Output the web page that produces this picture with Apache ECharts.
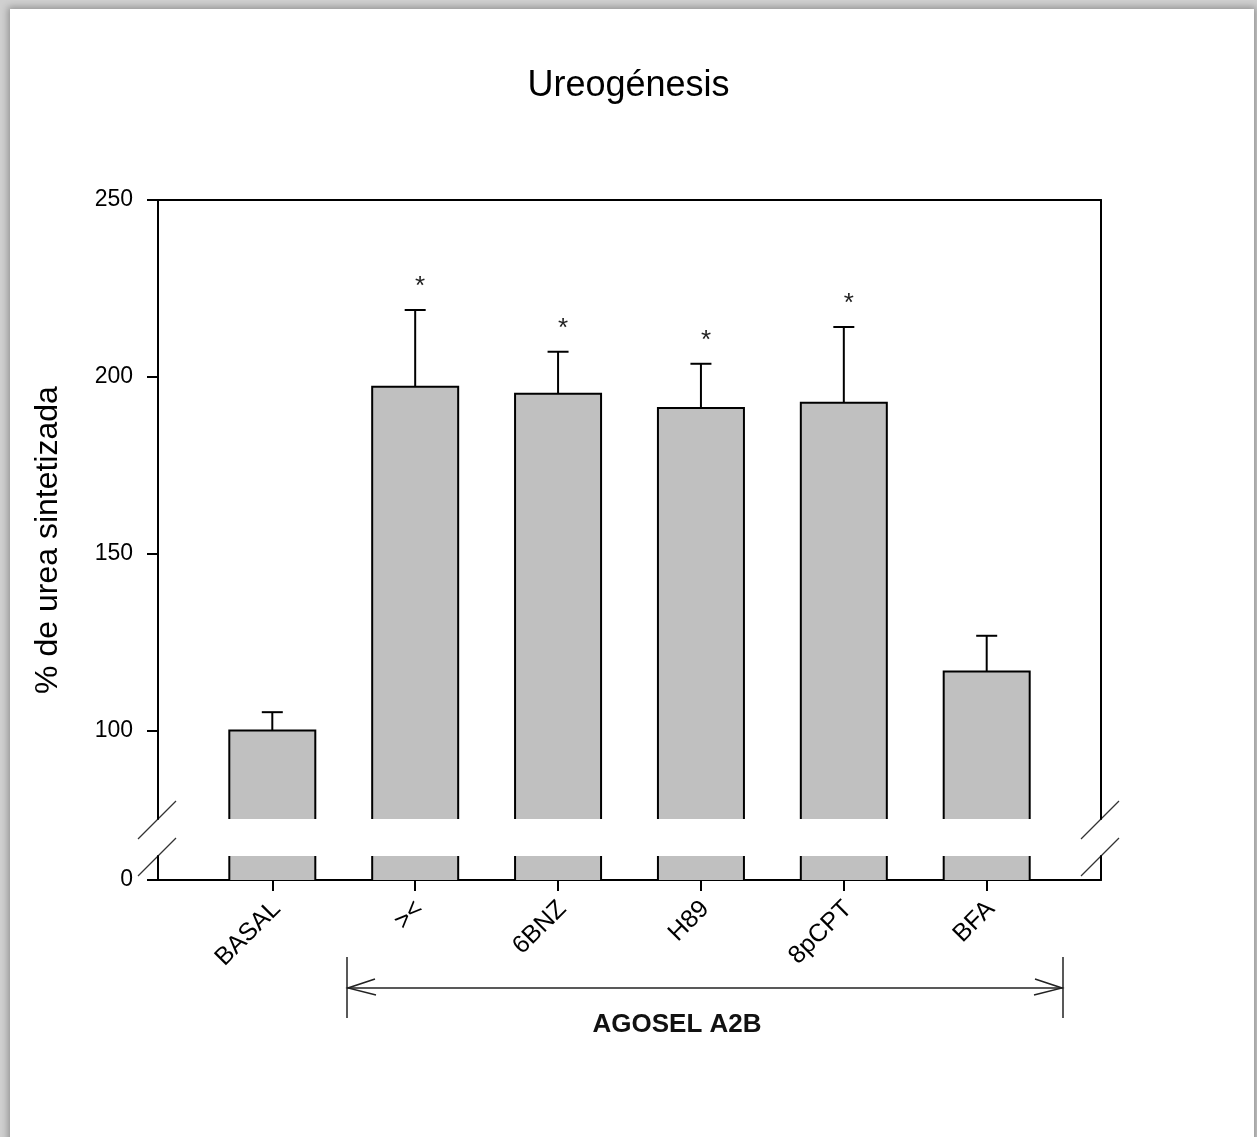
<!DOCTYPE html>
<html>
<head>
<meta charset="utf-8">
<title>Ureogénesis</title>
<script src="https://cdn.jsdelivr.net/npm/echarts@6/dist/echarts.min.js"></script>
<style>
  html, body { margin: 0; padding: 0; background: #d0d0d0; overflow: hidden; }
  #panel {
    position: absolute; left: 10px; top: 9px; width: 1244px; height: 1140px;
    background: #ffffff;
    box-shadow: 0 0 7px 2px rgba(0, 0, 0, 0.3);
  }
  #chart { position: absolute; left: 0; top: 0; width: 1257px; height: 1137px; }
</style>
</head>
<body>
<div id="panel"></div>
<div id="chart"></div>
<script>
// Treatments and measured urea synthesis (% of basal), mean and error
const categories = ['BASAL', '><', '6BNZ', 'H89', '8pCPT', 'BFA'];
const means = [100, 197.2, 195.2, 191.2, 192.7, 116.7];
const errors = [5.2, 21.7, 11.9, 12.5, 21.4, 10.1];
const marks = ['', '*', '*', '*', '*', ''];
const upperTicks = [100, 150, 200, 250];
const lowerTicks = [0];
const categoryPositions = categories.map((c, i) => i + 1);
// rotated names sit a touch to the right of their tick
const labelPositions = categoryPositions.map(p => p + 0.03);

const FONT = '"Liberation Sans", Arial, Helvetica, sans-serif';
const BAR_W = 86;
const CAP_W = 21;

// layout of the two stacked panels (axis break between them)
const PLOT_LEFT = 158, PLOT_W = 943;
const UP_TOP = 200, UP_H = 619;
const LO_TOP = 856, LO_H = 24;
const UP_MIN = 75, UP_MAX = 250;
const LO_MAX = LO_H * (UP_MAX - UP_MIN) / UP_H;

const barData = categoryPositions.map((x, i) => [x, means[i]]);
const errData = categoryPositions.map((x, i) => [x, means[i], errors[i]]);

const chart = echarts.init(document.getElementById('chart'), null, { renderer: 'canvas' });

const frameLine = { show: true, onZero: false, lineStyle: { color: '#000', width: 2 } };

function renderUpper(params, api) {
  const x = api.value(0), v = api.value(1), e = api.value(2);
  const top = api.coord([x, v]);
  const errTop = api.coord([x, v + e]);
  const cs = params.coordSys;
  const bottom = cs.y + cs.height;
  const l = top[0] - BAR_W / 2, r = top[0] + BAR_W / 2;
  const children = [
    { type: 'polyline', shape: { points: [[l, bottom], [l, top[1]], [r, top[1]], [r, bottom]] },
      style: { stroke: '#000', lineWidth: 2, fill: null } },
    { type: 'line', shape: { x1: top[0], y1: top[1], x2: top[0], y2: errTop[1] },
      style: { stroke: '#000', lineWidth: 2 } },
    { type: 'line', shape: { x1: top[0] - CAP_W / 2, y1: errTop[1], x2: top[0] + CAP_W / 2, y2: errTop[1] },
      style: { stroke: '#000', lineWidth: 2 } }
  ];
  const m = marks[params.dataIndex];
  if (m) {
    children.push({ type: 'text', style: {
      text: m, x: top[0] + 5, y: errTop[1] - 23, align: 'center', verticalAlign: 'middle',
      font: '26px ' + FONT, fill: '#222' } });
  }
  return { type: 'group', children };
}

function renderLower(params, api) {
  const x = api.value(0), v = api.value(1);
  const top = api.coord([x, v]);
  const cs = params.coordSys;
  const bottom = cs.y + cs.height;
  const y1 = Math.max(top[1], cs.y);
  const l = top[0] - BAR_W / 2, r = top[0] + BAR_W / 2;
  return { type: 'group', children: [
    { type: 'line', shape: { x1: l, y1: y1, x2: l, y2: bottom }, style: { stroke: '#000', lineWidth: 2 } },
    { type: 'line', shape: { x1: r, y1: y1, x2: r, y2: bottom }, style: { stroke: '#000', lineWidth: 2 } }
  ] };
}

// diagonal break marks at both vertical axes
function breakMarks() {
  const els = [];
  const ends = [UP_TOP + UP_H, LO_TOP];
  [PLOT_LEFT, PLOT_LEFT + PLOT_W].forEach(ax => {
    ends.forEach(ay => {
      els.push({ type: 'line', shape: { x1: ax - 20, y1: ay + 20, x2: ax + 18, y2: ay - 18 },
        style: { stroke: '#333', lineWidth: 1.3 }, silent: true });
    });
  });
  return els;
}

// group bracket under the agonist-treated bars
function bracket() {
  const x1 = 347, x2 = 1063, y = 988, h1 = 957, h2 = 1018;
  const st = { stroke: '#222', lineWidth: 1.5 };
  return [
    { type: 'line', shape: { x1: x1, y1: h1, x2: x1, y2: h2 }, style: st },
    { type: 'line', shape: { x1: x2, y1: h1, x2: x2, y2: h2 }, style: st },
    { type: 'line', shape: { x1: x1, y1: y, x2: x2, y2: y }, style: st },
    { type: 'polyline', shape: { points: [[x1 + 28, y - 9], [x1 + 1, y], [x1 + 29, y + 7]] }, style: Object.assign({ fill: null }, st) },
    { type: 'polyline', shape: { points: [[x2 - 28, y - 9], [x2 - 1, y], [x2 - 29, y + 7]] }, style: Object.assign({ fill: null }, st) },
    { type: 'text', style: { text: 'AGOSEL A2B', x: 677, y: 1025, align: 'center', verticalAlign: 'middle',
      font: 'bold 26px ' + FONT, fill: '#111' } }
  ];
}

const option = {
  animation: false,
  title: {
    text: 'Ureogénesis', left: 'center', top: 63,
    textStyle: { fontFamily: FONT, fontSize: 36, fontWeight: 'normal', color: '#000' }
  },
  grid: [
    { left: PLOT_LEFT, top: UP_TOP, width: PLOT_W, height: UP_H, containLabel: false, outerBoundsMode: 'none' },
    { left: PLOT_LEFT, top: LO_TOP, width: PLOT_W, height: LO_H, containLabel: false, outerBoundsMode: 'none' }
  ],
  xAxis: [
    { type: 'value', gridIndex: 0, position: 'top', min: 0.2, max: 6.8,
      axisLine: frameLine, axisTick: { show: false }, axisLabel: { show: false }, splitLine: { show: false } },
    { type: 'value', gridIndex: 1, position: 'bottom', min: 0.2, max: 6.8,
      axisLine: frameLine,
      axisTick: { show: true, customValues: categoryPositions, length: 11, lineStyle: { color: '#000', width: 2 } },
      axisLabel: { show: true, customValues: labelPositions, rotate: 45, margin: 25,
        formatter: v => categories[Math.round(v) - 1] || '',
        fontFamily: FONT, fontSize: 25, color: '#000' },
      splitLine: { show: false } }
  ],
  yAxis: [
    { type: 'value', gridIndex: 0, position: 'left', min: UP_MIN, max: UP_MAX,
      axisLine: frameLine,
      axisTick: { show: true, customValues: upperTicks, length: 11, lineStyle: { color: '#000', width: 2 } },
      axisLabel: { show: true, customValues: upperTicks, margin: 25, fontFamily: FONT, fontSize: 23, color: '#000' },
      splitLine: { show: false } },
    { type: 'value', gridIndex: 0, position: 'right', min: UP_MIN, max: UP_MAX,
      axisLine: frameLine, axisTick: { show: false }, axisLabel: { show: false }, splitLine: { show: false } },
    { type: 'value', gridIndex: 1, position: 'left', min: 0, max: LO_MAX,
      axisLine: frameLine,
      axisTick: { show: true, customValues: lowerTicks, length: 11, lineStyle: { color: '#000', width: 2 } },
      axisLabel: { show: true, customValues: lowerTicks, margin: 25, fontFamily: FONT, fontSize: 23, color: '#000' },
      splitLine: { show: false } },
    { type: 'value', gridIndex: 1, position: 'right', min: 0, max: LO_MAX,
      axisLine: frameLine, axisTick: { show: false }, axisLabel: { show: false }, splitLine: { show: false } }
  ],
  series: [
    { type: 'bar', xAxisIndex: 0, yAxisIndex: 0, data: barData, barWidth: BAR_W, clip: true,
      itemStyle: { color: '#c0c0c0', borderWidth: 0 }, silent: true },
    { type: 'bar', xAxisIndex: 1, yAxisIndex: 2, data: barData, barWidth: BAR_W, clip: true,
      itemStyle: { color: '#c0c0c0', borderWidth: 0 }, silent: true },
    { type: 'custom', xAxisIndex: 0, yAxisIndex: 0, data: errData, renderItem: renderUpper, clip: false, z: 5, silent: true },
    { type: 'custom', xAxisIndex: 1, yAxisIndex: 2, data: errData, renderItem: renderLower, clip: false, z: 5, silent: true }
  ],
  graphic: [
    { type: 'text', x: 48, y: 540, rotation: Math.PI / 2,
      style: { text: '% de urea sintetizada', align: 'center', verticalAlign: 'middle',
        font: '32px ' + FONT, fill: '#000' } }
  ].concat(breakMarks(), bracket())
};

chart.setOption(option);
</script>
</body>
</html>
